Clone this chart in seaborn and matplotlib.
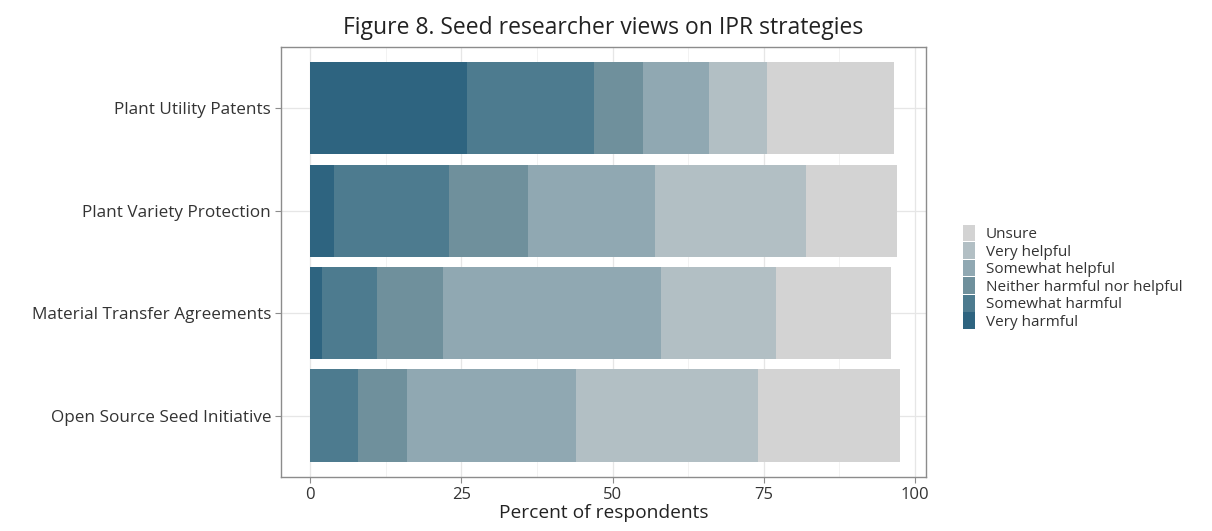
import pandas as pd
import seaborn as sns
import matplotlib.pyplot as plt
from matplotlib.patches import Patch
from matplotlib.ticker import MultipleLocator

# strategies, top to bottom
strategies = ["Plant Utility Patents", "Plant Variety Protection",
              "Material Transfer Agreements", "Open Source Seed Initiative"]

# response levels, from "Very harmful" up to "Unsure"
levels = ["Very harmful", "Somewhat harmful", "Neither harmful nor helpful",
          "Somewhat helpful", "Very helpful", "Unsure"]
colors = ["#2e6480", "#4d7b8f", "#6f909c", "#90a8b2", "#b2bfc4", "#d3d3d3"]

# percent of respondents per level, in the order of strategies
very_harmful = [26, 4, 2, 0]
somewhat_harmful = [21, 19, 9, 8]
neither = [8, 13, 11, 8]
somewhat_helpful = [11, 21, 36, 28]
very_helpful = [9.5, 25, 19, 30]
unsure = [21, 15, 19, 23.5]

df = pd.DataFrame({
    "strategy": strategies,
    "Very harmful": very_harmful,
    "Somewhat harmful": somewhat_harmful,
    "Neither harmful nor helpful": neither,
    "Somewhat helpful": somewhat_helpful,
    "Very helpful": very_helpful,
    "Unsure": unsure,
})
cum = df[levels].cumsum(axis=1)
cum["strategy"] = df["strategy"]

sns.set_style("white")
plt.rcParams["font.family"] = ["Open Sans", "DejaVu Sans"]

fig = plt.figure(figsize=(12.12, 5.31), dpi=100)
ax = fig.add_axes([0.2318, 0.1017, 0.5322, 0.8098])

# stacked bars: draw the cumulative totals from the widest down
for lev, col in reversed(list(zip(levels, colors))):
    sns.barplot(data=cum, x=lev, y="strategy", order=strategies, color=col,
                orient="h", width=0.9, saturation=1, linewidth=0,
                ax=ax, zorder=3)

ax.set_xlim(-4.8, 101.8)
ax.set_ylim(3.6, -0.6)
ax.xaxis.set_major_locator(MultipleLocator(25))
ax.xaxis.set_minor_locator(MultipleLocator(12.5))
ax.grid(True, which="major", color="#e6e6e6", lw=0.9, zorder=0)
ax.grid(True, which="minor", axis="x", color="#f0f0f0", lw=0.6, zorder=0)
ax.set_axisbelow(True)
for s in ax.spines.values():
    s.set_visible(True)
    s.set_color("#8c8c8c")
    s.set_linewidth(1.0)
ax.tick_params(axis="both", which="major", length=4, color="#8c8c8c",
               labelsize=12.3, labelcolor="#333333", pad=3, bottom=True, left=True)
ax.tick_params(axis="x", which="major", labelsize=12)
ax.tick_params(axis="x", which="minor", length=0)

ax.set_ylabel("")
ax.set_xlabel("Percent of respondents", fontsize=13.8, color="#222222", labelpad=1)
ax.set_title("Figure 8. Seed researcher views on IPR strategies",
             fontsize=16.5, color="#222222", pad=9)

handles = [Patch(facecolor=c, edgecolor="none", label=l)
           for l, c in reversed(list(zip(levels, colors)))]
fig.legend(handles=handles, loc="center left", bbox_to_anchor=(0.783, 0.478),
           frameon=False, fontsize=11, handlelength=0.8, handleheight=1.32,
           handletextpad=0.7, labelspacing=0.0, labelcolor="#333333")

fig.savefig("out.png", dpi=100)
